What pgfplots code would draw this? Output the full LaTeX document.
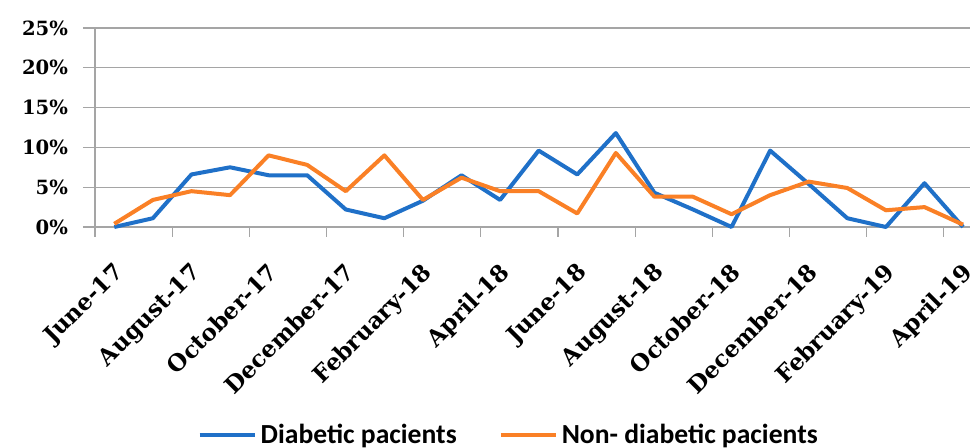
\documentclass[border=0pt]{standalone}
\usepackage{pgfplots}
\pgfplotsset{compat=1.18}
\usepackage{fontspec}
\setmainfont{DejaVu Serif}
\newfontfamily\legfont{Carlito}
\definecolor{dblue}{RGB}{31,112,200}
\definecolor{dorange}{RGB}{250,128,38}
\definecolor{gridc}{RGB}{165,165,165}
\begin{document}
\begin{tikzpicture}
\useasboundingbox (-47.5pt,-110.5pt) rectangle (437.5pt,113.5pt);
\begin{axis}[
  scale only axis, width=437.5pt, height=99.5pt,
  xmin=-0.5, xmax=22.18, ymin=0, ymax=25,
  axis x line*=bottom, axis y line*=left,
  axis line style={draw=gridc, line width=0.6pt, -},
  ymajorgrids, grid style={draw=gridc, line width=0.6pt},
  ytick={0,5,...,25}, yticklabels={0\%,5\%,10\%,15\%,20\%,25\%},
  xtick={0,2,...,22},
  xticklabels={June-17,August-17,October-17,December-17,February-18,April-18,June-18,August-18,October-18,December-18,February-19,April-19},
  minor xtick={-0.5,1.5,...,21.5},
  tick align=outside,
  major x tick style={draw=none},
  major tick length=6pt, minor tick length=5pt,
  tick style={draw=gridc, line width=0.6pt},
  xticklabel style={yshift=-9.5pt, xshift=-1pt, rotate=45, anchor=north east, font=\bfseries\fontsize{11.5}{13}\selectfont, inner sep=1pt},
  yticklabel style={font=\bfseries\fontsize{9.8}{12}\selectfont, xshift=-4pt},
  clip=false,
  legend columns=2,
  legend style={draw=none, at={(0.474,-1.045)}, anchor=center,
    font=\legfont\bfseries\fontsize{13.8}{15}\selectfont,
    /tikz/every even column/.append style={column sep=19pt}},
  legend image code/.code={\draw[#1, line width=2pt] (0pt,0pt) -- (27.5pt,0pt);},
]
\addplot[dblue, line width=2pt, line join=round] coordinates {
(0,0) (1,1.1) (2,6.6) (3,7.5) (4,6.5) (5,6.5) (6,2.2) (7,1.1) (8,3.3) (9,6.5) (10,3.4)
(11,9.6) (12,6.6) (13,11.8) (14,4.3) (15,2.2) (16,0) (17,9.6) (18,5.4) (19,1.1) (20,0) (21,5.5) (22,0)};
\addlegendentry{Diabetic pacients}
\addplot[dorange, line width=2pt, line join=round] coordinates {
(0,0.4) (1,3.4) (2,4.5) (3,4.0) (4,9.0) (5,7.8) (6,4.5) (7,9.0) (8,3.4) (9,6.2) (10,4.5)
(11,4.5) (12,1.7) (13,9.3) (14,3.8) (15,3.8) (16,1.6) (17,4.0) (18,5.7) (19,4.9) (20,2.1) (21,2.5) (22,0.3)};
\addlegendentry{Non- diabetic pacients}
\end{axis}
\end{tikzpicture}
\end{document}
